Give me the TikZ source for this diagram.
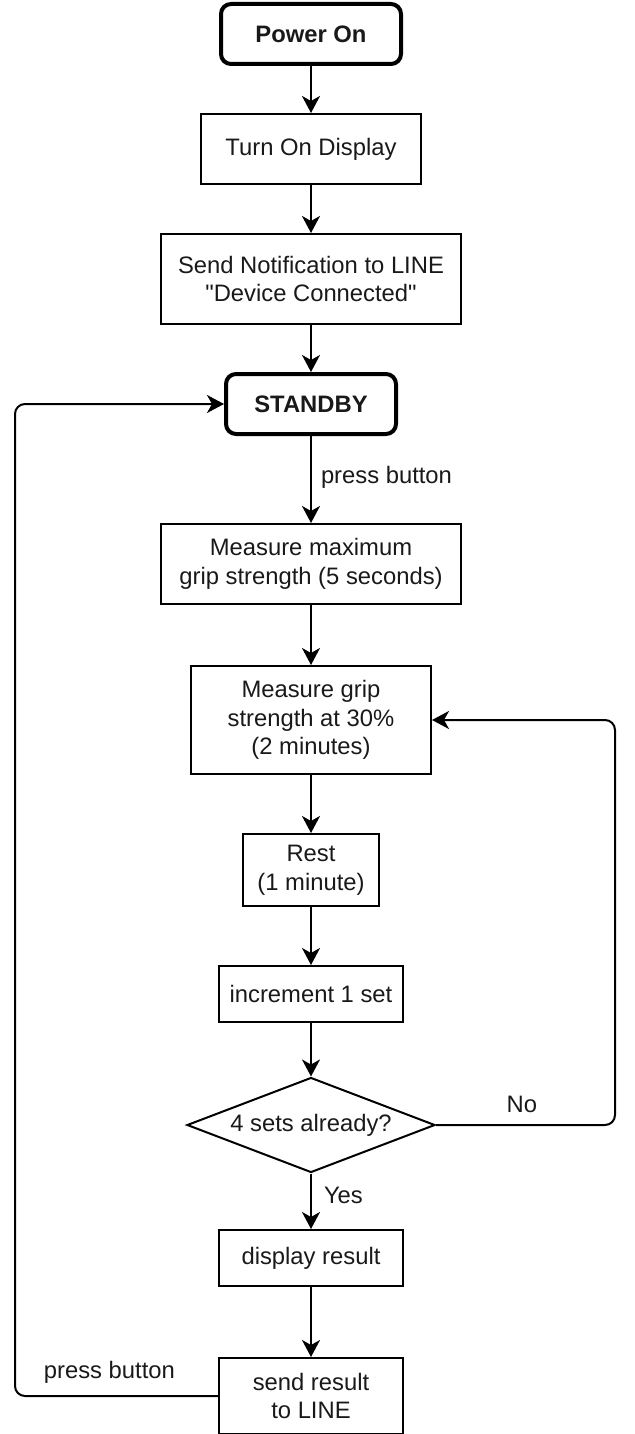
\documentclass[tikz,border=0pt]{standalone}
\usepackage{fontspec}
\setmainfont{Liberation Sans}[Ligatures=TeXOff]
\usetikzlibrary{shapes.geometric,arrows.meta}
\begin{document}
\begin{tikzpicture}[x=0.5pt,y=-0.5pt,
  every node/.style={font=\fontsize{11.9}{14.3}\selectfont, text=black!90},
  box/.style={draw, line width=1pt, align=center, inner sep=0pt},
  term/.style={box, rounded corners=5pt, line width=2pt, font=\fontsize{11.9}{14.3}\selectfont\bfseries},
  cond/.style={draw, line width=1pt, diamond, aspect=2.6, inner sep=0pt, minimum width=124pt, minimum height=47.5pt, align=center},
  arr/.style={draw, line width=1pt, -{Stealth[length=8.5pt,width=9pt,inset=2.5pt]}},
  lbl/.style={inner sep=0pt}
]
\useasboundingbox (0,0) rectangle (634,1434);
\node[term, minimum width=90pt, minimum height=30pt] (pwr) at (311,34) {Power On};
\node[box, minimum width=110pt, minimum height=35pt] (disp) at (311,149) {Turn On Display};
\node[box, minimum width=150pt, minimum height=45pt] (notif) at (311,279) {Send Notification to LINE\\"Device Connected"};
\node[term, minimum width=85pt, minimum height=30pt] (stby) at (311,404) {STANDBY};
\node[box, minimum width=150pt, minimum height=40pt] (meas) at (311,564) {Measure maximum\\grip strength (5 seconds)};
\node[box, minimum width=120pt, minimum height=54pt] (g30) at (311,720) {Measure grip\\strength at 30\%\\(2 minutes)};
\node[box, minimum width=68pt, minimum height=36pt] (rest) at (311,870) {Rest\\(1 minute)};
\node[box, minimum width=92pt, minimum height=28pt] (inc) at (311,994) {increment 1 set};
\node[cond] (dia) at (311,1125) {4 sets already?};
\node[box, minimum width=92pt, minimum height=28pt] (res) at (311,1258) {display result};
\node[box, minimum width=92pt, minimum height=38pt] (send) at (311,1396) {send result\\to LINE};

\coordinate (rx) at (615,0);
\coordinate (lx) at (15,0);
\coordinate (rA) at (dia.east -| rx);
\coordinate (rB) at (g30.east -| rx);
\coordinate (lA) at (send.west -| lx);
\coordinate (lB) at (stby.west -| lx);

\draw[arr] (pwr) -- (disp);
\draw[arr] (disp) -- (notif);
\draw[arr] (notif) -- (stby);
\draw[arr] (stby) -- node[lbl, right=4.5pt, pos=0.48] {press button} (meas);
\draw[arr] (meas) -- (g30);
\draw[arr] (g30) -- (rest);
\draw[arr] (rest) -- (inc);
\draw[arr] (inc) -- (dia);
\draw[arr] (dia) -- node[lbl, right=6pt, pos=0.4] {Yes} (res);
\draw[arr] (res) -- (send);
\draw[arr, rounded corners=5pt] (dia.east) -- node[lbl, above=5.5pt, pos=0.48] {No} (rA) -- (rB) -- (g30.east);
\draw[arr, rounded corners=5pt] (send.west) -- node[lbl, above=6pt, pos=0.535] {press button} (lA) -- (lB) -- (stby.west);
\end{tikzpicture}
\end{document}
